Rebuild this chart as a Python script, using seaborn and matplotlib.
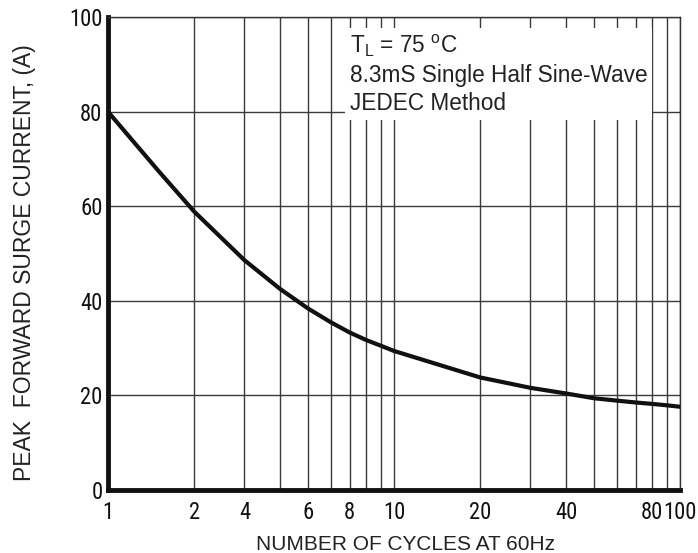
import numpy as np
import matplotlib
matplotlib.use("Agg")
import matplotlib.pyplot as plt
from matplotlib import font_manager
from matplotlib.font_manager import FontProperties
import seaborn as sns

# curve (true log x axis)
cycles = [1, 1.5, 2, 3, 4, 5, 6, 7, 8, 9, 10, 20, 30, 40, 50, 60, 70, 80, 90, 100]
current = [80, 67.5, 58.9, 48.6, 42.5, 38.4, 35.5, 33.3, 31.7, 30.5, 29.4,
           23.8, 21.6, 20.4, 19.4, 18.9, 18.5, 18.2, 17.9, 17.6]

# labelled tick positions and their texts, as printed on the reference
xtick_pos = [1, 2, 3, 5, 7, 10, 20, 40, 80, 100]
xtick_lbl = ["1", "2", "4", "6", "8", "10", "20", "40", "80", "100"]
ytick_pos = [0, 20, 40, 60, 80, 100]
grid_x = [1, 2, 3, 4, 5, 6, 7, 8, 9, 10, 20, 30, 40, 50, 60, 70, 80, 90, 100]

note = "T$_\\mathrm{L}$ = 75 $^\\mathrm{o}$C\n8.3mS Single Half Sine-Wave\nJEDEC Method"

sns.set_style("white")
plt.rcParams["font.family"] = ["Liberation Sans", "DejaVu Sans"]
plt.rcParams["mathtext.fontset"] = "custom"
plt.rcParams["mathtext.rm"] = "Liberation Sans"
plt.rcParams["mathtext.it"] = "Liberation Sans:italic"


def pick_narrow():
    # look for any narrow / condensed upright regular face
    fonts = font_manager.fontManager.ttflist
    prefer = ["Liberation Sans Narrow", "Roboto Condensed", "Open Sans Condensed",
              "Noto Sans", "DejaVu Sans", "Open Sans", "Roboto"]
    good = []
    for f in fonts:
        st = f.stretch
        if isinstance(st, str):
            st = font_manager.stretch_dict.get(st, 500)
        narrowish = "Narrow" in f.name or "Condensed" in f.name or st < 500
        wt = f.weight if isinstance(f.weight, int) else font_manager.weight_dict.get(f.weight, 400)
        if narrowish and f.style == "normal" and 350 <= wt <= 450 and "Mono" not in f.name:
            good.append(f)
    good.sort(key=lambda f: prefer.index(f.name) if f.name in prefer else 99)
    if good:
        return FontProperties(fname=good[0].fname)
    return FontProperties(family="Liberation Sans")


narrow = pick_narrow()

fig = plt.figure(figsize=(6.98, 5.53), dpi=100)
renderer = fig.canvas.get_renderer()


def fit_size(text, fp, target_px):
    t = fig.text(0, 0, text, fontproperties=fp, fontsize=10)
    w = t.get_window_extent(renderer).width
    t.remove()
    return 10 * target_px / w


tick_fs = min(fit_size("100", narrow, 33), 20)

ax = fig.add_axes([0.1547, 0.114, 0.8195, 0.855])
ax.set_xscale("log")

sns.lineplot(x=cycles, y=current, color="#111111", lw=3, ax=ax, zorder=5)

ax.set_xlim(1, 100)
ax.set_ylim(0, 100)

ax.set_xticks(grid_x, minor=True)
ax.set_xticks(xtick_pos)
ax.set_xticklabels(xtick_lbl)
ax.xaxis.set_minor_formatter(plt.NullFormatter())
ax.set_yticks(ytick_pos)
ax.set_yticklabels([str(v) for v in ytick_pos])
for lab in ax.get_xticklabels() + ax.get_yticklabels():
    lab.set_fontproperties(narrow)
    lab.set_fontsize(tick_fs)
ax.tick_params(axis="both", which="both", length=0, colors="#111111")
ax.tick_params(axis="x", pad=8)
ax.tick_params(axis="y", pad=4)

ax.grid(True, axis="x", which="both", color="#3a3a3a", lw=1)
ax.grid(True, axis="y", which="major", color="#3a3a3a", lw=1)
ax.set_axisbelow(True)

for side in ["top", "right"]:
    ax.spines[side].set_linewidth(1)
    ax.spines[side].set_color("#333333")
for side in ["left", "bottom"]:
    ax.spines[side].set_linewidth(3.5)
    ax.spines[side].set_color("#111111")

ax.set_xlabel("NUMBER OF CYCLES AT 60Hz", fontsize=15, color="#222222")
ax.set_ylabel("PEAK  FORWARD SURGE CURRENT, (A)", fontsize=16.5, color="#222222")
ax.xaxis.set_label_coords(0.521, -0.095)
ax.yaxis.set_label_coords(-0.126, 0.481)

ax.text(0.423, 0.966, note, transform=ax.transAxes, ha="left", va="top",
        fontsize=16.3, color="#222222", linespacing=1.27, zorder=6,
        bbox=dict(boxstyle="square,pad=0.2", fc="white", ec="none"))

fig.savefig("out.png", dpi=100)
